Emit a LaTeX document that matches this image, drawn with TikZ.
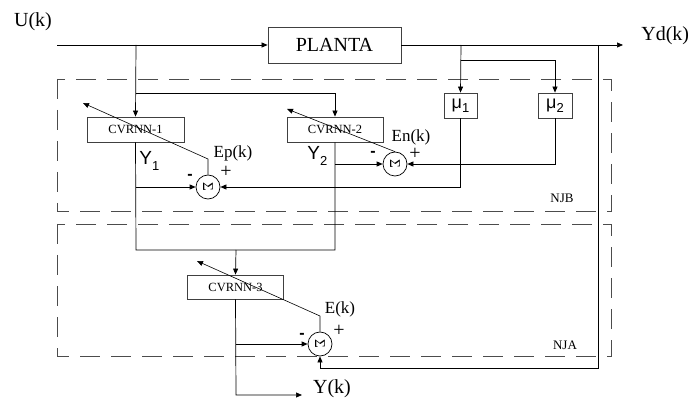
\documentclass[tikz,border=0pt]{standalone}
\usepackage{fontspec}
\setmainfont{Liberation Serif}
\newfontfamily\arialf{Liberation Sans}
\usetikzlibrary{arrows.meta}
\begin{document}
\begin{tikzpicture}[x=1pt,y=-1pt,
  line width=0.7pt,
  tip/.style={-{Triangle[length=6pt,width=5pt]}},
  blk/.style={draw=black!75,line width=0.8pt,inner sep=0pt,font=\fontsize{12.5}{14}\selectfont},
  mubox/.style={draw=black!75,line width=0.8pt,inner sep=0pt,font=\arialf\fontsize{18}{20}\selectfont},
  sumnode/.style={circle,draw,line width=0.7pt,minimum size=24pt,inner sep=0pt,font=\fontsize{15}{15}\selectfont},
  region/.style={draw=black!70,dash pattern=on 20pt off 11pt,line width=0.8pt},
  big/.style={font=\fontsize{20}{24}\selectfont,inner sep=0pt},
  mid/.style={font=\fontsize{17}{20}\selectfont,inner sep=0pt},
  small/.style={font=\fontsize{13}{15}\selectfont,inner sep=0pt},
  ylab/.style={font=\arialf\fontsize{19}{22}\selectfont,inner sep=0pt,anchor=west},
  minus/.style={font=\arialf\bfseries\fontsize{16}{18}\selectfont,inner sep=0pt},
  plus/.style={font=\fontsize{20}{20}\selectfont,inner sep=0pt},
  adj/.style={line width=0.6pt,-{Triangle[length=6pt,width=5pt]}}
]
\useasboundingbox (0,0) rectangle (691,398);
% regions
\draw[region] (57,79) rectangle (611,211);
\draw[region] (57,224) rectangle (611,356);
\node[small] (njb) at (562,198) {NJB};
\node[small] (nja) at (565,345) {NJA};
% blocks
\node[draw=black!75,line width=0.8pt,minimum width=133pt,minimum height=36pt,big] (plant) at (334.5,45) {PLANTA};
\node[blk,minimum width=97pt,minimum height=25pt] (cv1) at (135.5,129.5) {CVRNN-1};
\node[blk,minimum width=96pt,minimum height=25pt] (cv2) at (335,129.5) {CVRNN-2};
\node[blk,minimum width=96pt,minimum height=24pt] (cv3) at (235.5,287) {CVRNN-3};
\node[mubox,minimum width=33pt,minimum height=25pt] (mu1) at (460.5,105.5) {μ\raisebox{-0.25em}{\fontsize{13}{14}\selectfont 1}};
\node[mubox,minimum width=34pt,minimum height=25pt] (mu2) at (555,105.5) {μ\raisebox{-0.25em}{\fontsize{13}{14}\selectfont 2}};
\node[sumnode] (sp) at (208,187) {\rotatebox{-90}{Σ}};
\node[sumnode] (sn) at (395,164) {\rotatebox{-90}{Σ}};
\node[sumnode] (se) at (320,344) {\rotatebox{-90}{Σ}};
% labels
\node[big] (ulab) at (33,22) {U(k)};
\node[big,anchor=west] (ydlab) at (641,36) {Yd(k)};
\node[big] (yklab) at (332,389) {Y(k)};
\node[mid] (eplab) at (233,153) {Ep(k)};
\node[mid] (enlab) at (411,137) {En(k)};
\node[mid] (elab) at (340,309) {E(k)};
\node[ylab] (y1lab) at (139,161) {Y\raisebox{-0.35em}{\fontsize{13}{14}\selectfont 1}};
\node[ylab] (y2lab) at (307,156) {Y\raisebox{-0.35em}{\fontsize{13}{14}\selectfont 2}};
\node[minus] (mp) at (190,177) {-};
\node[plus] (pp) at (226,172) {+};
\node[minus] (mn) at (373,154) {-};
\node[plus] (pn) at (415,154) {+};
\node[minus] (me) at (302,336) {-};
\node[plus] (pe) at (339,331) {+};
% coordinates
\coordinate (in0) at (57,45);
\coordinate (j1) at (136,45);
\coordinate (j2) at (136,93);
\coordinate (yend) at (623,45);
\coordinate (k1) at (461,45);
\coordinate (k2) at (461,60);
\coordinate (f0) at (598,45);
\coordinate (f1) at (598,368);
\coordinate (f2) at (320,368);
\coordinate (b1) at (136,250);
\coordinate (b2) at (236,250);
\coordinate (t1) at (136,187);
\coordinate (t2) at (335,164);
\coordinate (t3) at (236,344);
\coordinate (o1) at (236,395);
\coordinate (o2) at (302,395);
\coordinate (ap) at (208,159);
\coordinate (apend) at (83,103);
\coordinate (anend) at (287,109);
\coordinate (ae) at (320,316);
\coordinate (aeend) at (197,261);
% connectors
\draw[tip] (in0) -- (plant.west);
\draw[tip] (j1) -- (cv1.north);
\draw[tip] (j2) -| (cv2.north);
\draw[tip] (plant.east) -- (yend);
\draw[tip] (k1) -- (mu1.north);
\draw[tip] (k2) -| (mu2.north);
\draw[tip] (f0) -- (f1) -- (f2) -- (se.south);
\draw[tip] (mu1.south) |- (sp.east);
\draw[tip] (mu2.south) |- (sn.east);
\draw (cv1.south) -- (b1) -| (cv2.south);
\draw[tip] (b2) -- (cv3.north);
\draw[tip] (t1) -- (sp.west);
\draw[tip] (t2) -- (sn.west);
\draw[tip] (t3) -- (se.west);
\draw[tip] (cv3.south) -- (o1) -- (o2);
\draw[adj] (sp.north) -- (ap) -- (apend);
\draw[adj] (sn.north) -- (anend);
\draw[adj] (se.north) -- (ae) -- (aeend);
\end{tikzpicture}
\end{document}
